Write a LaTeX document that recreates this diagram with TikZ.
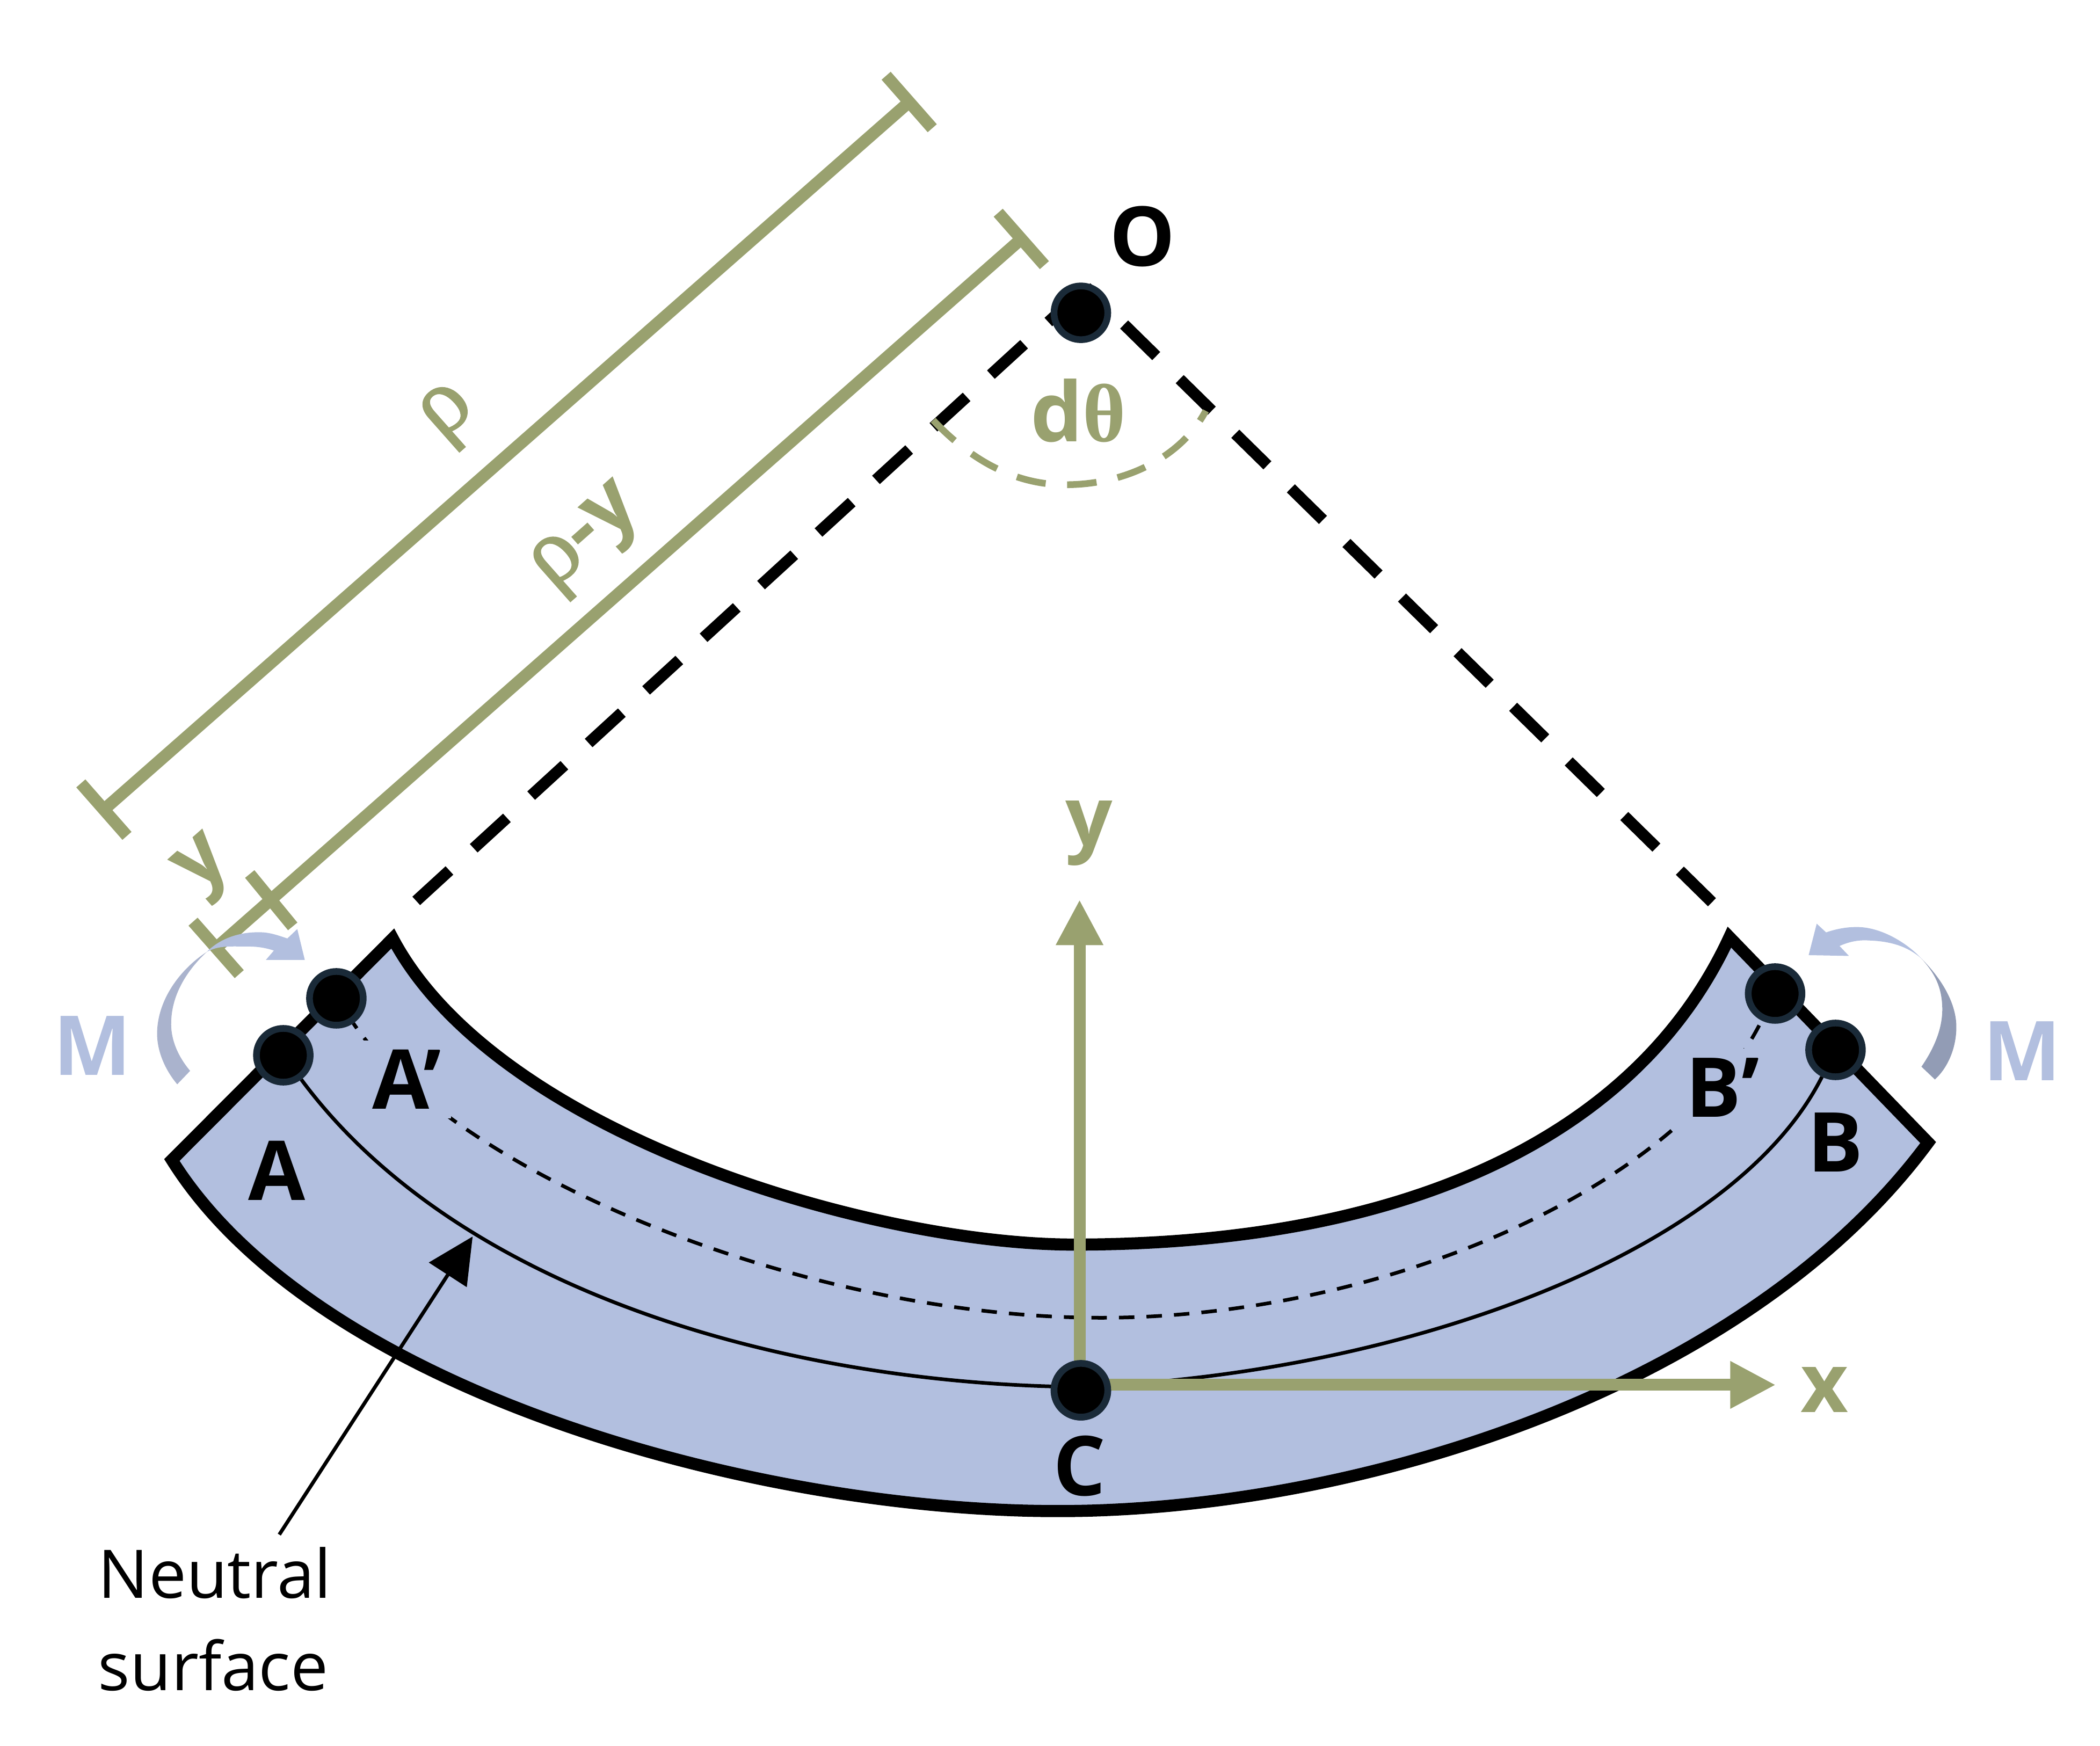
\documentclass[tikz,border=0pt]{standalone}
\usepackage{fontspec}
\setmainfont{Open Sans}
\newfontfamily\thetafont{Liberation Serif}
\newfontfamily\rhofont[FakeBold=1.3]{Liberation Serif}
\usetikzlibrary{arrows.meta}
\definecolor{beamblue}{HTML}{B2BFDF}
\definecolor{olive}{HTML}{99A16F}
\definecolor{dotedge}{HTML}{1A2A38}
\definecolor{leftshade}{HTML}{AAB3CD}
\definecolor{rightshade}{HTML}{929CB5}
\tikzset{
    dotnode/.style = {circle,fill=black,draw=dotedge,line width=0.05cm,minimum size=0.40cm,inner sep=0},
    lab/.style = {inner sep=0,font=\fontsize{17.5}{21}\selectfont\bfseries},
    dimline/.style = {olive,line width=0.09cm,{Bar[width=0.52cm,length=0.09cm]}-{Bar[width=0.52cm,length=0.09cm]}},
    axis/.style = {olive,line width=0.088cm,-{Triangle[length=0.34cm,width=0.33cm]}},
}
\newcommand{\rhoglyph}{{\fontsize{20}{20}\selectfont\mdseries\rhofont ρ}}
\begin{document}
\begin{tikzpicture}[x=0.01cm,y=-0.01cm]
    \useasboundingbox (0,0) rectangle (1564,1300.4);
    % the beam
    \draw[fill=beamblue,line width=0.09cm,miter limit=10] (292.5,699) -- (128,864)
        .. controls (235,1035) and (560,1125.5) .. (788,1125.5)
        .. controls (1010,1125.5) and (1300,1035) .. (1436,851)
        -- (1288,698)
        .. controls (1220,845) and (1050,927) .. (800,927)
        .. controls (650,927) and (370,845) .. (292.5,699) -- cycle;
    \coordinate (apex) at (809,214);
    \coordinate (leftend) at (310,671);
    \coordinate (rightend) at (1275,672);
    \draw[line width=0.085cm,dash pattern=on 0.335cm off 0.245cm] (leftend) -- (apex);
    \draw[line width=0.085cm,dash pattern=on 0.335cm off 0.245cm] (rightend) -- (apex);
    \node[dotnode] (O) at (805,233) {};
    \node[dotnode] (A) at (211,786) {};
    \node[dotnode] (Ap) at (250.5,743.6) {};
    \node[dotnode] (B) at (1367,782) {};
    \node[dotnode] (Bp) at (1322,740) {};
    % fibres
    \draw[line width=0.027cm,dash pattern=on 0.115cm off 0.09cm,dash phase=0.07cm] (Ap)
        .. controls (340,875) and (600,981.5) .. (820,981.5)
        .. controls (1030,981.5) and (1250,885) .. (Bp);
    \node[lab,fill=beamblue,inner sep=2pt] (Aplab) at (303,804) {A’};
    \node[lab,fill=beamblue,inner sep=2pt] (Bplab) at (1283,810) {B’};
    \node[lab] (Alab) at (206,872) {A};
    \node[lab] (Blab) at (1367,851) {B};
    \node[lab] (Olab) at (851,176) {O};
    \node[lab] (Clab) at (804,1092) {C};
    % axes
    \node[dotnode] (C) at (805,1035.5) {};
    \coordinate (ytip) at (804,670);
    \coordinate (xtip) at (1322.6,1031.5);
    \draw[line width=0.027cm] (A)
        .. controls (340,960) and (580,1030) .. (800,1033)
        .. controls (1040,1025) and (1290,935) .. (B);
    \draw[axis] (804,1035.5) -- (ytip);
    \draw[axis] (805,1031.5) -- (xtip);
    \node[dotnode] at (C) {};
    \node[lab,olive] (ylab) at (811,620.5) {y};
    \node[lab,olive] (xlab) at (1359,1035) {x};
    % dimensions
    \coordinate (rhoa) at (74,606);
    \coordinate (rhob) at (680.5,73);
    \coordinate (rya) at (157.6,709);
    \coordinate (ryb) at (764,175);
    \coordinate (ticka) at (186,651);
    \coordinate (tickb) at (218,690);
    \draw[dimline] (rhoa) -- (rhob);
    \draw[dimline] (rya) -- (ryb);
    \draw[olive,line width=0.09cm] (ticka) -- (tickb);
    \node[lab,olive,rotate=41.5] (rholab) at (336,310) {\rhoglyph};
    \node[lab,olive,rotate=41.5] (rylab) at (439,403) {\rhoglyph-y};
    \node[lab,olive,rotate=41.5] (ydim) at (154,647) {y};
    \coordinate (arca) at (695,313);
    \coordinate (arcb) at (898,306);
    \draw[olive,line width=0.05cm,dash pattern=on 0.22cm off 0.16cm] (arca)
        .. controls (730,350) and (765,362) .. (797,361)
        .. controls (840,360) and (880,340) .. (arcb);
    \node[lab,olive] (dtheta) at (803,306) {d{\thetafont θ}};
    % moments
    \fill[leftshade] (132,807.6) -- (141.6,797.6) .. controls (131,785) and (127,772) .. (127.5,761)
        .. controls (128,740) and (140,722) .. (154,709)
        .. controls (134,722) and (117,745) .. (117,770)
        .. controls (117,783) and (123,797) .. (132,807.6) -- cycle;
    \fill[beamblue] (154,709) .. controls (165,698) and (180,694) .. (194,694.4)
        .. controls (201,694.4) and (208,697) .. (214,699) -- (221.4,692) -- (227,715) -- (198,715) -- (204,708)
        .. controls (198,706) and (192,705) .. (185,705)
        .. controls (172,705) and (163,704) .. (154,709) -- cycle;
    \fill[rightshade] (1431,794.5) .. controls (1441,780) and (1447,765) .. (1446.5,750)
        .. controls (1446,735) and (1441,725) .. (1431,714)
        .. controls (1447,730) and (1457,748) .. (1457,765)
        .. controls (1457,780) and (1451,795) .. (1441,804) -- cycle;
    \fill[beamblue] (1431,714) .. controls (1420,702) and (1400,690) .. (1382,690.5)
        .. controls (1375,690.5) and (1367,692) .. (1360,694.5) -- (1353,688) -- (1347,711.4) -- (1377,712) -- (1370,704.6)
        .. controls (1378,701) and (1385,700) .. (1392,700.5)
        .. controls (1408,701) and (1421,705) .. (1431,714) -- cycle;
    \node[lab,beamblue] (Mleft) at (69,779) {M};
    \node[lab,beamblue] (Mright) at (1506,783) {M};
    % neutral surface
    \node[align=left,inner sep=0,font=\fontsize{14.2}{19.6}\selectfont] (neutral) at (160,1206) {Neutral\\surface};
    \coordinate (ntail) at (208,1143);
    \coordinate (ntip) at (352,921);
    \draw[line width=0.027cm,-{Triangle[length=0.34cm,width=0.33cm]}] (ntail) -- (ntip);
\end{tikzpicture}
\end{document}
